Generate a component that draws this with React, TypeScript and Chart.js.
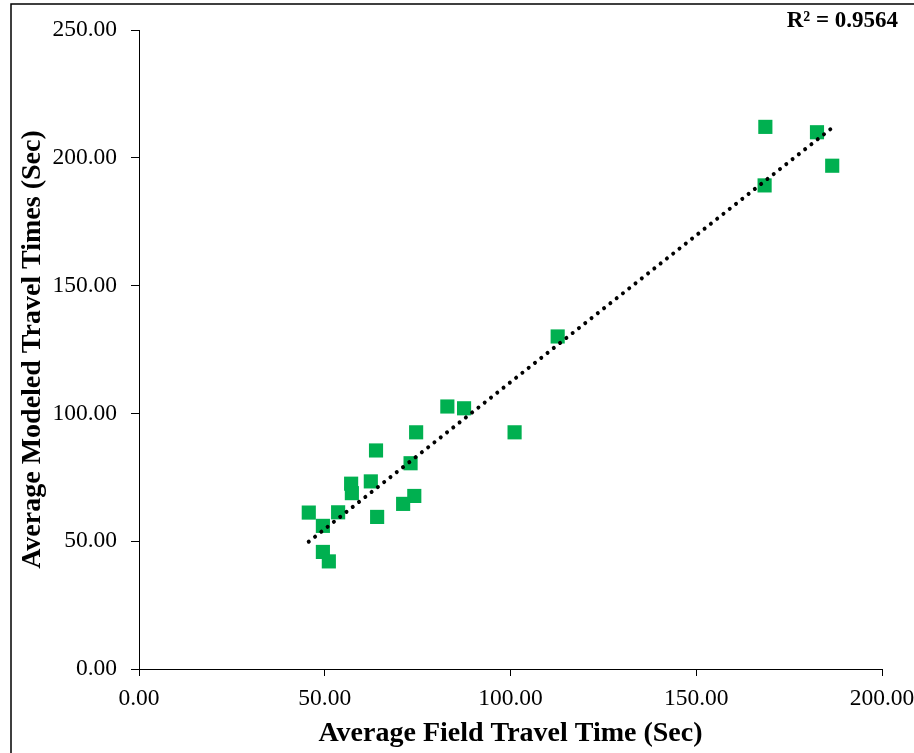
import React, { useEffect, useRef } from "react";
import { Chart, registerables } from "chart.js";

Chart.register(...registerables);

const fieldTimes = [83.0, 87.5, 101.1, 74.6, 63.8, 73.1, 57.1, 62.4, 57.3, 74.1, 71.1, 45.7, 53.6, 64.1, 49.5, 49.5, 51.1, 168.6, 182.5, 186.6, 168.4, 112.7];
const modeledTimes = [102.7, 102.0, 92.6, 92.6, 85.5, 80.5, 72.5, 73.4, 68.8, 67.7, 64.6, 61.2, 61.3, 59.5, 56.0, 45.8, 42.1, 212.1, 210.0, 196.9, 189.2, 130.1];
const xTicks = [0, 50, 100, 150, 200];
const yTicks = [0, 50, 100, 150, 200, 250];
const r2Label = "R² = 0.9564";
const xTitle = "Average Field Travel Time (Sec)";
const yTitle = "Average Modeled Travel Times (Sec)";

const FONT = "'Liberation Serif', 'Times New Roman', serif";

function regression(xs: number[], ys: number[]) {
  const n = xs.length;
  const mx = xs.reduce((a, b) => a + b, 0) / n;
  const my = ys.reduce((a, b) => a + b, 0) / n;
  let sxy = 0, sxx = 0;
  for (let i = 0; i < n; i++) {
    sxy += (xs[i] - mx) * (ys[i] - my);
    sxx += (xs[i] - mx) * (xs[i] - mx);
  }
  const slope = sxy / sxx;
  return { slope, intercept: my - slope * mx };
}

export default function App() {
  const ref = useRef<HTMLCanvasElement | null>(null);

  useEffect(() => {
    document.body.style.margin = "0";
    const canvas = ref.current!;
    const points = fieldTimes.map((x, i) => ({ x, y: modeledTimes[i] }));
    const { slope, intercept } = regression(fieldTimes, modeledTimes);
    const xmin = Math.min(...fieldTimes);
    const xmax = Math.max(...fieldTimes);
    const trend = [
      { x: xmin, y: intercept + slope * xmin },
      { x: xmax, y: intercept + slope * xmax },
    ];

    const decor = {
      id: "decor",
      afterDraw(chart: any) {
        const ctx = chart.ctx;
        ctx.save();
        ctx.strokeStyle = "#000";
        ctx.lineWidth = 1.5;
        ctx.beginPath();
        ctx.moveTo(11, 1000);
        ctx.lineTo(11, 4);
        ctx.lineTo(1000, 4);
        ctx.stroke();
        ctx.fillStyle = "#000";
        ctx.font = `bold 23px ${FONT}`;
        ctx.textAlign = "right";
        ctx.textBaseline = "middle";
        ctx.fillText(r2Label, 898, 21);
        ctx.restore();
      },
    };

    const chart = new Chart(canvas, {
      type: "scatter",
      data: {
        datasets: [
          {
            type: "line",
            data: trend,
            borderColor: "#000",
            borderWidth: 4,
            borderDash: [0.01, 8],
            borderCapStyle: "round",
            pointRadius: 0,
            fill: false,
          } as any,
          {
            data: points,
            pointStyle: "rect",
            pointRadius: 10,
            backgroundColor: "#00B050",
            borderColor: "#00B050",
            borderWidth: 0,
          },
        ],
      },
      options: {
        animation: false,
        responsive: false,
        devicePixelRatio: 1,
        layout: { padding: { left: 0, right: 32, top: 30, bottom: 0 } },
        plugins: { legend: { display: false }, tooltip: { enabled: false } },
        scales: {
          x: {
            type: "linear",
            min: 0,
            max: 200,
            afterBuildTicks: (s: any) => {
              s.ticks = xTicks.map((v) => ({ value: v }));
            },
            afterFit: (s: any) => {
              s.paddingLeft = 0;
              s.paddingRight = 0;
              s.height = 84;
            },
            border: { display: true, color: "#000", width: 1 },
            grid: { display: true, drawOnChartArea: false, drawTicks: true, tickLength: 7, tickColor: "#000", tickWidth: 1 } as any,
            ticks: {
              color: "#000",
              padding: 9,
              maxRotation: 0,
              font: { family: FONT, size: 23.5 },
              callback: (v: any) => Number(v).toFixed(2),
            },
            title: {
              display: true,
              text: xTitle,
              color: "#000",
              font: { family: FONT, size: 28, weight: "bold" },
              padding: { top: 0, bottom: 2 },
            },
          },
          y: {
            type: "linear",
            min: 0,
            max: 250,
            afterBuildTicks: (s: any) => {
              s.ticks = yTicks.map((v) => ({ value: v }));
            },
            afterFit: (s: any) => {
              s.paddingTop = 0;
              s.paddingBottom = 0;
              s.width = 139;
            },
            border: { display: true, color: "#000", width: 1 },
            grid: { display: true, drawOnChartArea: false, drawTicks: true, tickLength: 8, tickColor: "#000", tickWidth: 1 } as any,
            ticks: {
              color: "#000",
              padding: 14,
              font: { family: FONT, size: 23.5 },
              callback: (v: any) => Number(v).toFixed(2),
            },
            title: {
              display: true,
              text: yTitle,
              color: "#000",
              font: { family: FONT, size: 28, weight: "bold" },
              padding: { top: 16, bottom: 0 },
            },
          },
        },
      },
      plugins: [decor],
    });
    return () => chart.destroy();
  }, []);

  return (
    <canvas ref={ref} width={914} height={753} style={{ display: "block", width: 914, height: 753 }} />
  );
}
